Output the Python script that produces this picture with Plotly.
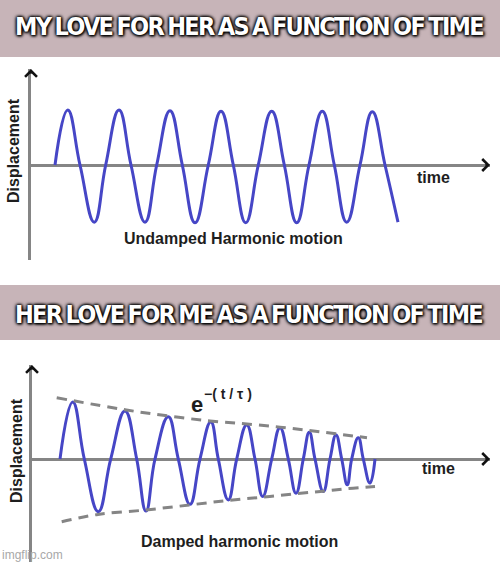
import plotly.graph_objects as go

W, H = 500, 564

# ---------------- data ----------------
# Top panel: undamped oscillation, key points (zero crossings / extrema)
top_time = [2.4, 3.67, 4.9, 6.33, 7.47, 8.8, 10.0, 11.4, 12.57, 13.9, 15.13, 16.4,
            17.73, 19.0, 20.23, 21.47, 22.73, 24.07, 25.33, 26.57, 27.8, 29.13,
            30.33, 31.57, 32.9, 34.13, 35.4, 36.7]
top_disp = [0, 0.98, 0, -1.02, 0, 0.98, 0, -1.02, 0, 0.97, 0, -1.03,
            0, 0.96, 0, -1.03, 0, 0.96, 0, -1.03, 0, 0.96, 0, -1.02, 0, 0.95, 0, -1.02]

# Bottom panel: damped oscillation, key points
bot_time = [2.8, 4.07, 5.23, 6.63, 7.87, 9.3, 10.47, 11.4, 12.3, 13.63, 14.63, 15.8,
            16.8, 17.88, 18.63, 19.63, 20.47, 21.47, 22.3, 23.07, 23.97, 24.8, 25.63,
            26.4, 27.13, 27.73, 28.3, 29.13, 29.8, 30.4, 30.97, 31.53, 31.97, 32.63,
            33.13, 33.8, 34.3]
bot_disp = [0, 1.02, 0, -0.94, 0, 0.86, 0, -0.93, 0, 0.755, 0, -0.81,
            0, 0.66, 0, -0.73, 0, 0.61, 0, -0.67, 0, 0.56, 0,
            -0.61, 0, 0.48, 0, -0.58, 0, 0.43, 0, -0.46, 0, 0.38,
            0, -0.43, 0]

# Envelope (dashed) curves
env_top_time = [2.47, 9.3, 13.6, 17.8, 21.5, 24.8, 27.7, 30.4, 33.5]
env_top_disp = [1.095, 0.88, 0.77, 0.68, 0.625, 0.57, 0.51, 0.45, 0.38]
env_bot_time = [2.97, 6.6, 11.4, 15.8, 19.6, 23.1, 26.4, 29.1, 31.5, 34.3]
env_bot_disp = [-1.12, -0.99, -0.91, -0.82, -0.74, -0.68, -0.62, -0.575, -0.53, -0.49]

title_top = "MY LOVE FOR HER AS A FUNCTION OF TIME"
title_bot = "HER LOVE FOR ME AS A FUNCTION OF TIME"
caption_top = "Undamped Harmonic motion"
caption_bot = "Damped harmonic motion"

# ---------------- styling ----------------
BLUE = "#4646c6"
GRAY = "#858585"
BANNER = "#c7b4b8"
TXT = "#1e1e1e"
ARIAL = "Liberation Sans, Arial, sans-serif"
NARROW = "DejaVu Sans Condensed, Liberation Sans Narrow, sans-serif"

def px(x):
    return x / W

def py(y):
    return 1 - y / H

fig = go.Figure()

wave_line = dict(color=BLUE, width=3, shape="spline", smoothing=1.3)
fig.add_trace(go.Scatter(x=top_time, y=top_disp, mode="lines", line=wave_line,
                         xaxis="x", yaxis="y", hoverinfo="skip"))
fig.add_trace(go.Scatter(x=bot_time, y=bot_disp, mode="lines", line=wave_line,
                         xaxis="x2", yaxis="y2", hoverinfo="skip"))
env_line = dict(color=GRAY, width=3, dash="10px,7px", shape="spline")
fig.add_trace(go.Scatter(x=env_top_time, y=env_top_disp, mode="lines", line=env_line,
                         xaxis="x2", yaxis="y2", hoverinfo="skip"))
fig.add_trace(go.Scatter(x=env_bot_time, y=env_bot_disp, mode="lines", line=env_line,
                         xaxis="x2", yaxis="y2", hoverinfo="skip"))

X1_MAX = 45.9
Y1 = [-1.696, 1.714]
X2_MAX = 45.8
Y2 = [-1.84, 1.68]

hidden_x = dict(showgrid=False, zeroline=False, showline=False, showticklabels=False,
                ticks="", fixedrange=True)
yax = dict(showgrid=False, zeroline=True, zerolinecolor=GRAY, zerolinewidth=3,
           showline=True, linecolor=GRAY, linewidth=3, showticklabels=False,
           ticks="", fixedrange=True)

fig.update_layout(
    width=W, height=H,
    margin=dict(l=0, r=0, t=0, b=0),
    paper_bgcolor="white", plot_bgcolor="rgba(0,0,0,0)",
    showlegend=False,
    xaxis=dict(hidden_x, domain=[px(31), px(490)], range=[0, X1_MAX], anchor="y"),
    yaxis=dict(yax, domain=[py(260), py(69)], range=Y1, anchor="x"),
    xaxis2=dict(hidden_x, domain=[px(32), px(490)], range=[0, X2_MAX], anchor="y2"),
    yaxis2=dict(yax, domain=[py(562), py(365)], range=Y2, anchor="x2"),
)

# banners
fig.add_shape(type="rect", xref="paper", yref="paper", x0=0, x1=1, y0=py(57), y1=1,
              fillcolor=BANNER, line_width=0, layer="below")
fig.add_shape(type="rect", xref="paper", yref="paper", x0=0, x1=1, y0=py(340), y1=py(285),
              fillcolor=BANNER, line_width=0, layer="below")

shadow = "0px 0px 3px #000, 0px 0px 3px #000, 0px 0px 4px #000, 1px 1px 3px #000"

def banner_text(text, y):
    return dict(text='<span style="letter-spacing:-1.7px;word-spacing:-2px">' + text + "</span>",
                x=0.497, y=py(y), xref="paper", yref="paper", showarrow=False,
                xanchor="center", yanchor="middle",
                font=dict(family=NARROW, size=25, color="white", weight="bold",
                          shadow=shadow))

annots = [
    banner_text(title_top, 26),
    banner_text(title_bot, 314),
    # top panel labels
    dict(text="Displacement", x=px(14), y=py(151), textangle=-90),
    dict(text="time", x=px(433), y=py(178)),
    dict(text=caption_top, x=px(233), y=py(238)),
    # bottom panel labels
    dict(text="Displacement", x=px(16), y=py(451), textangle=-90),
    dict(text="time", x=px(438), y=py(468)),
    dict(text=caption_bot, x=px(239), y=py(541)),
]
for a in annots[2:]:
    a.update(xref="paper", yref="paper", showarrow=False, xanchor="center",
             yanchor="middle", font=dict(family=ARIAL, size=16, color=TXT, weight="bold"))

# e^-(t/tau)
annots.append(dict(text="e", x=px(197), y=py(404), xref="paper", yref="paper",
                   showarrow=False, xanchor="center", yanchor="middle",
                   font=dict(family=ARIAL, size=22, color=TXT, weight="bold")))
annots.append(dict(text="\u2212( t / \u03c4 )", x=px(202), y=py(394), xref="paper",
                   yref="paper", showarrow=False, xanchor="left", yanchor="middle",
                   font=dict(family=ARIAL, size=14, color=TXT, weight="bold")))
# watermark
annots.append(dict(text="imgflip.com", x=px(0), y=py(555), xref="paper", yref="paper",
                   showarrow=False, xanchor="left", yanchor="middle",
                   font=dict(family=ARIAL, size=12, color="#a8a8a8")))

# axis arrow heads
arrow = dict(showarrow=True, arrowhead=4, arrowsize=1, arrowwidth=2.3,
             arrowcolor="#111", text="", standoff=0)
annots.append(dict(arrow, x=X1_MAX, y=0, xref="x", yref="y", ax=-6, ay=0))
annots.append(dict(arrow, x=0, y=Y1[1], xref="x", yref="y", ax=0, ay=6))
annots.append(dict(arrow, x=X2_MAX, y=0, xref="x2", yref="y2", ax=-6, ay=0))
annots.append(dict(arrow, x=0, y=Y2[1], xref="x2", yref="y2", ax=0, ay=6))

fig.update_layout(annotations=annots)

fig.write_html("out.html", config={"displayModeBar": False},
               post_script="document.body.style.margin='0';")
